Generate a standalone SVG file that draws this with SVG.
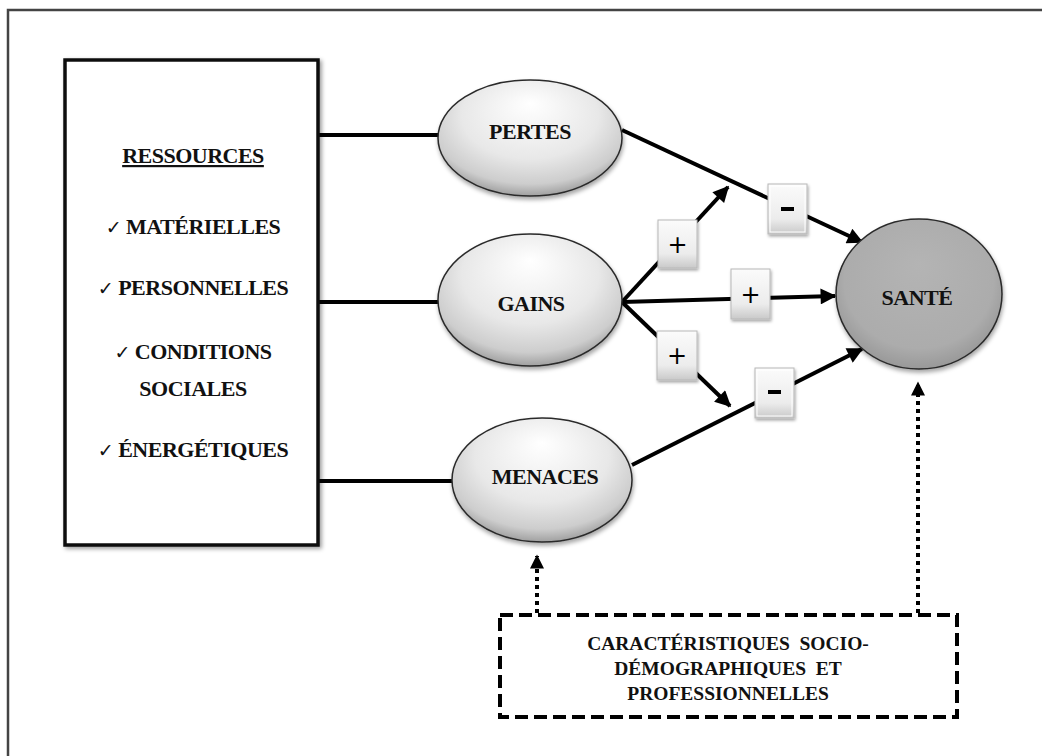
<svg xmlns="http://www.w3.org/2000/svg" width="1042" height="756" viewBox="0 0 1042 756">
<style>
.t{font-family:"Liberation Serif","Times New Roman",serif;font-weight:bold;fill:#111;text-anchor:middle}
.big{font-size:22px;letter-spacing:-0.5px}
.small{font-size:19.5px;white-space:pre}
.chk{font-family:"DejaVu Sans",sans-serif;font-weight:normal;font-size:19px}
.conn{stroke:#000;stroke-width:4;fill:none}
.arr{marker-end:url(#ah)}
.dot{stroke:#000;stroke-width:4;stroke-dasharray:4 4;fill:none;marker-end:url(#ah2)}
.ell{stroke:#2a2a2a;stroke-width:1.5;filter:url(#sh)}
.btn{fill:url(#bg);stroke:#b8b8b8;stroke-width:1;filter:url(#sh2)}
.sym{font-family:"DejaVu Sans",sans-serif;font-size:24px;fill:#000;text-anchor:middle}
</style>
<defs>
<radialGradient id="eg" cx="0.5" cy="0.38" r="0.62" fx="0.5" fy="0.2">
<stop offset="0" stop-color="#ffffff"/>
<stop offset="0.6" stop-color="#e8e8e8"/>
<stop offset="0.87" stop-color="#cdcdcd"/>
<stop offset="1" stop-color="#a0a0a0"/>
</radialGradient>
<radialGradient id="sg" cx="0.5" cy="0.45" r="0.6" fx="0.5" fy="0.3">
<stop offset="0" stop-color="#b4b4b4"/>
<stop offset="0.75" stop-color="#acacac"/>
<stop offset="0.92" stop-color="#9a9a9a"/>
<stop offset="1" stop-color="#7c7c7c"/>
</radialGradient>
<linearGradient id="bg" x1="0" y1="0" x2="0" y2="1">
<stop offset="0" stop-color="#fbfbfb"/>
<stop offset="0.7" stop-color="#ececec"/>
<stop offset="1" stop-color="#c9c9c9"/>
</linearGradient>
<filter id="sh" x="-20%" y="-20%" width="140%" height="140%">
<feDropShadow dx="1" dy="3" stdDeviation="2" flood-color="#000" flood-opacity="0.35"/>
</filter>
<filter id="sh2" x="-30%" y="-30%" width="160%" height="160%">
<feDropShadow dx="1" dy="2" stdDeviation="1.5" flood-color="#000" flood-opacity="0.35"/>
</filter>
<filter id="sh3" x="-10%" y="-10%" width="120%" height="120%">
<feDropShadow dx="2" dy="2" stdDeviation="2" flood-color="#000" flood-opacity="0.4"/>
</filter>
<marker id="ah" viewBox="0 0 10 10" refX="9" refY="5" markerWidth="4.5" markerHeight="4" orient="auto" markerUnits="strokeWidth">
<path d="M0,0 L10,5 L0,10 z" fill="#000"/>
</marker>
<marker id="ah2" viewBox="0 0 10 10" refX="9" refY="5" markerWidth="4" markerHeight="3.5" orient="auto" markerUnits="strokeWidth">
<path d="M0,0 L10,5 L0,10 z" fill="#000"/>
</marker>
</defs>
<rect width="1042" height="756" fill="#fff"/>
<rect x="8" y="10" width="1040" height="760" fill="none" stroke="#444" stroke-width="2.5"/>

<g id="connectors">
<line class="conn" x1="318" y1="135" x2="440" y2="135"/>
<line class="conn" x1="318" y1="302" x2="440" y2="302"/>
<line class="conn" x1="318" y1="481" x2="452" y2="481"/>
<line class="conn arr" x1="622" y1="130" x2="862" y2="242"/>
<line class="conn arr" x1="622" y1="302" x2="728" y2="187"/>
<line class="conn arr" x1="622" y1="302" x2="835" y2="296"/>
<line class="conn arr" x1="622" y1="302" x2="730" y2="406"/>
<line class="conn arr" x1="632" y1="465" x2="862" y2="349"/>
<line class="dot" x1="537" y1="613" x2="537" y2="556"/>
<line class="dot" x1="918" y1="613" x2="918" y2="383"/>
</g>

<g id="ressources">
<rect x="65" y="60" width="253" height="485" fill="#fff" stroke="#111" stroke-width="3.5" filter="url(#sh3)"/>
<text class="t big" x="193" y="163" text-decoration="underline">RESSOURCES</text>
<text class="t big" x="193" y="234"><tspan class="chk">✓</tspan> MATÉRIELLES</text>
<text class="t big" x="193" y="295"><tspan class="chk">✓</tspan> PERSONNELLES</text>
<text class="t big" x="193" y="359"><tspan class="chk">✓</tspan> CONDITIONS</text>
<text class="t big" x="193" y="396">SOCIALES</text>
<text class="t big" x="193" y="457"><tspan class="chk">✓</tspan> ÉNERGÉTIQUES</text>
</g>

<g id="pertes">
<ellipse class="ell" cx="530" cy="138" rx="92" ry="58" fill="url(#eg)"/>
<text class="t big" x="530" y="139">PERTES</text>
</g>
<g id="gains">
<ellipse class="ell" cx="530" cy="300" rx="92" ry="66" fill="url(#eg)"/>
<text class="t big" x="531" y="311">GAINS</text>
</g>
<g id="menaces">
<ellipse class="ell" cx="542" cy="480" rx="90" ry="62" fill="url(#eg)"/>
<text class="t big" x="545" y="484">MENACES</text>
</g>
<g id="sante">
<ellipse class="ell" cx="919" cy="294" rx="83" ry="75" fill="url(#sg)"/>
<text class="t big" x="917" y="305">SANTÉ</text>
</g>

<g id="sign-pertes">
<rect class="btn" x="768" y="184" width="39" height="50"/>
<rect x="770" y="186" width="35" height="46" fill="none" stroke="#fff" stroke-width="1"/>
<rect x="781" y="207" width="13" height="4" fill="#000"/>
</g>
<g id="sign-gains-up">
<rect class="btn" x="658" y="220" width="39" height="48"/>
<text class="sym" x="677.5" y="253">+</text>
</g>
<g id="sign-gains">
<rect class="btn" x="731" y="269" width="39" height="50"/>
<text class="sym" x="750.5" y="303">+</text>
</g>
<g id="sign-gains-down">
<rect class="btn" x="657" y="331" width="40" height="49"/>
<text class="sym" x="677" y="364">+</text>
</g>
<g id="sign-menaces">
<rect class="btn" x="755" y="368" width="39" height="50"/>
<rect x="757" y="370" width="35" height="46" fill="none" stroke="#fff" stroke-width="1"/>
<rect x="768" y="390" width="13" height="4" fill="#000"/>
</g>

<g id="caracteristiques">
<rect x="500" y="615" width="457" height="102" fill="#fff" stroke="#000" stroke-width="4" stroke-dasharray="13 6"/>
<text class="t small" x="728" y="650">CARACTÉRISTIQUES  SOCIO-</text>
<text class="t small" x="728" y="675">DÉMOGRAPHIQUES  ET</text>
<text class="t small" x="728" y="700">PROFESSIONNELLES</text>
</g>
</svg>
